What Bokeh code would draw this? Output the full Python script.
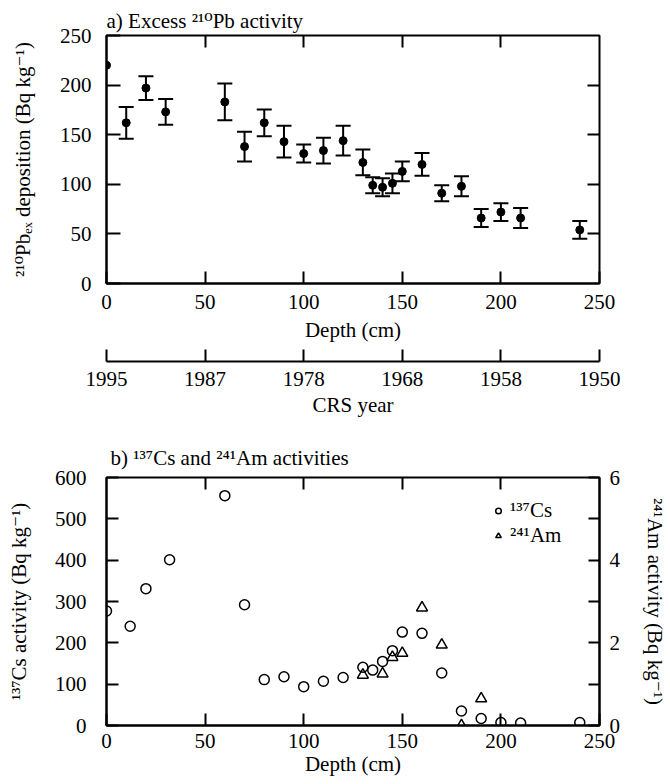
from bokeh.plotting import figure
from bokeh.models import (Range1d, LinearAxis, FixedTicker, Whisker, TeeHead,
                          ColumnDataSource, Legend, LegendItem)
from bokeh.layouts import column
from bokeh.embed import file_html
from bokeh.resources import INLINE

# ---------------- data ----------------
# a) Excess 210Pb activity
pb_depth = [0, 10, 20, 30, 60, 70, 80, 90, 100, 110, 120, 130, 135, 140, 145, 150,
            160, 170, 180, 190, 200, 210, 240]
pb_value = [220, 162, 197, 173, 183, 138, 162, 143, 131, 134, 144, 122, 99, 97, 101, 113,
            120, 91, 98, 66, 72, 66, 54]
pb_error = [0, 16, 12, 13, 18.5, 15, 13.5, 16, 9, 13, 15, 13, 8, 9, 10, 10,
            11.5, 8, 10, 9, 9, 10, 9]

crs_depth = [0, 50, 100, 150, 200, 250]
crs_year = ["1995", "1987", "1978", "1968", "1958", "1950"]

# b) 137Cs and 241Am activities
cs_depth = [0, 12, 20, 32, 60, 70, 80, 90, 100, 110, 120, 130, 135, 140, 145, 150,
            160, 170, 180, 190, 200, 210, 240]
cs_value = [277, 240, 331, 401, 556, 292, 111, 118, 94, 107, 116, 141, 134, 155, 181, 226,
            223, 127, 35, 17, 7, 6, 7]
am_depth = [130, 140, 145, 150, 160, 170, 180, 190]
am_value = [1.22, 1.25, 1.65, 1.75, 2.85, 1.95, 0.0, 0.65]

depth_ticks = [0, 50, 100, 150, 200, 250]
inner_ticks = [50, 100, 150, 200]

FONT = "Liberation Serif, DejaVu Serif"
FS = "21px"


def style_axis(ax, ticks, minor=None, tick_in=12, labels=True):
    ax.ticker = FixedTicker(ticks=ticks, minor_ticks=minor or [])
    ax.major_tick_in = tick_in
    ax.major_tick_out = 0
    ax.minor_tick_in = tick_in if minor else 0
    ax.minor_tick_out = 0
    ax.major_tick_line_width = 2
    ax.minor_tick_line_width = 2
    ax.major_tick_line_color = "black"
    ax.minor_tick_line_color = "black" if minor else None
    ax.axis_line_color = "black"
    ax.axis_line_width = 2
    ax.major_label_text_font = FONT
    ax.major_label_text_font_size = FS
    ax.major_label_text_color = "black"
    ax.axis_label_text_font = FONT
    ax.axis_label_text_font_size = FS
    ax.axis_label_text_font_style = "normal"
    ax.axis_label_text_color = "black"
    if not labels:
        ax.major_label_overrides = {t: "" for t in ticks}
        ax.major_label_text_font_size = "0px"
        ax.major_label_standoff = 0
        ax.axis_line_color = None


def base_fig(width, height, bl, br, bt, bb, y_end):
    p = figure(width=width, height=height, x_range=Range1d(0, 250), y_range=Range1d(0, y_end),
               output_backend="svg", toolbar_location=None,
               min_border_left=bl, min_border_right=br, min_border_top=bt, min_border_bottom=bb)
    p.xgrid.visible = False
    p.ygrid.visible = False
    p.outline_line_color = "black"
    p.outline_line_width = 2
    p.outline_line_alpha = 1
    p.background_fill_color = "white"
    p.border_fill_color = "white"
    p.title.text_font = FONT
    p.title.text_font_size = FS
    p.title.text_font_style = "normal"
    p.title.text_color = "black"
    p.title.align = "left"
    return p


# ---------------- panel a ----------------
p1 = base_fig(670, 428, 102, 70, 35, 145, 250)
p1.title.text = "a)  Excess \u00b2\u00b9\u2070Pb activity"
p1.title.standoff = 5
p1.title.offset = 0

xa = p1.xaxis[0]
style_axis(xa, depth_ticks)
xa.axis_label = "Depth (cm)"
xa.major_label_standoff = 11
xa.axis_label_standoff = 6

ya = p1.yaxis[0]
style_axis(ya, [0, 50, 100, 150, 200, 250], tick_in=14)
ya.axis_label = "\u00b2\u00b9\u2070Pb\u2091\u2093 deposition (Bq kg\u207b\u00b9)"
ya.major_label_standoff = 15
ya.axis_label_standoff = 22

top1 = LinearAxis()
style_axis(top1, inner_ticks, labels=False)
p1.add_layout(top1, "above")
right1 = LinearAxis()
style_axis(right1, inner_ticks, labels=False)
p1.add_layout(right1, "right")

# invisible spacer between the depth axis and the CRS-year axis
spacer = LinearAxis()
style_axis(spacer, [125], labels=False)
spacer.major_tick_out = 17
spacer.major_tick_in = 0
spacer.major_tick_line_alpha = 0
p1.add_layout(spacer, "below")

crs = LinearAxis()
style_axis(crs, crs_depth)
crs.major_label_overrides = {d: y for d, y in zip(crs_depth, crs_year)}
crs.axis_label = "CRS year"
crs.major_label_standoff = 10
crs.axis_label_standoff = 4
p1.add_layout(crs, "below")

err_base = [d for d, e in zip(pb_depth, pb_error) if e > 0]
err_up = [v + e for v, e in zip(pb_value, pb_error) if e > 0]
err_lo = [v - e for v, e in zip(pb_value, pb_error) if e > 0]
wsrc = ColumnDataSource(dict(base=err_base, upper=err_up, lower=err_lo))
p1.add_layout(Whisker(source=wsrc, base="base", upper="upper", lower="lower",
                      line_color="black", line_width=2,
                      upper_head=TeeHead(size=15, line_width=2, line_color="black"),
                      lower_head=TeeHead(size=15, line_width=2, line_color="black")))
p1.scatter(pb_depth, pb_value, marker="circle", size=8, color="black")

# ---------------- panel b ----------------
p2 = base_fig(670, 354, 106, 65, 49, 57, 600)
p2.title.text = "b) \u00b9\u00b3\u2077Cs and \u00b2\u2074\u00b9Am activities"
p2.title.standoff = 15
p2.title.offset = 4
p2.extra_y_ranges = {"am": Range1d(0, 6)}

xb = p2.xaxis[0]
style_axis(xb, depth_ticks)
xb.axis_label = "Depth (cm)"
xb.major_label_standoff = 8
xb.axis_label_standoff = 1

yb = p2.yaxis[0]
style_axis(yb, [0, 100, 200, 300, 400, 500, 600])
yb.axis_label = "\u00b9\u00b3\u2077Cs activity (Bq kg\u207b\u00b9)"
yb.major_label_standoff = 20
yb.axis_label_standoff = 21

top2 = LinearAxis()
style_axis(top2, inner_ticks, labels=False)
p2.add_layout(top2, "above")

right2 = LinearAxis(y_range_name="am")
style_axis(right2, [0, 2, 4, 6], minor=[1, 3, 5], tick_in=11)
right2.axis_label = "\u00b2\u2074\u00b9Am activity (Bq kg\u207b\u00b9)"
right2.major_label_standoff = 10
right2.axis_label_standoff = 20
p2.add_layout(right2, "right")

r_cs = p2.scatter(cs_depth, cs_value, marker="circle", size=10, fill_color=None,
                  line_color="black", line_width=1.5)
r_am = p2.scatter(am_depth, am_value, marker="triangle", size=11, fill_color=None,
                  line_color="black", line_width=1.5, y_range_name="am")

legend = Legend(items=[LegendItem(label="\u00b9\u00b3\u2077Cs", renderers=[r_cs]),
                       LegendItem(label="\u00b2\u2074\u00b9Am", renderers=[r_am])],
                location=(385, 177), border_line_color=None, background_fill_alpha=0,
                label_text_font=FONT, label_text_font_size=FS, label_text_color="black",
                glyph_width=14, glyph_height=23, label_height=23, padding=0, spacing=0,
                margin=0, label_standoff=5)
p2.add_layout(legend)

layout = column(p1, p2, spacing=0)
open("out.html", "w").write(file_html(layout, INLINE))
